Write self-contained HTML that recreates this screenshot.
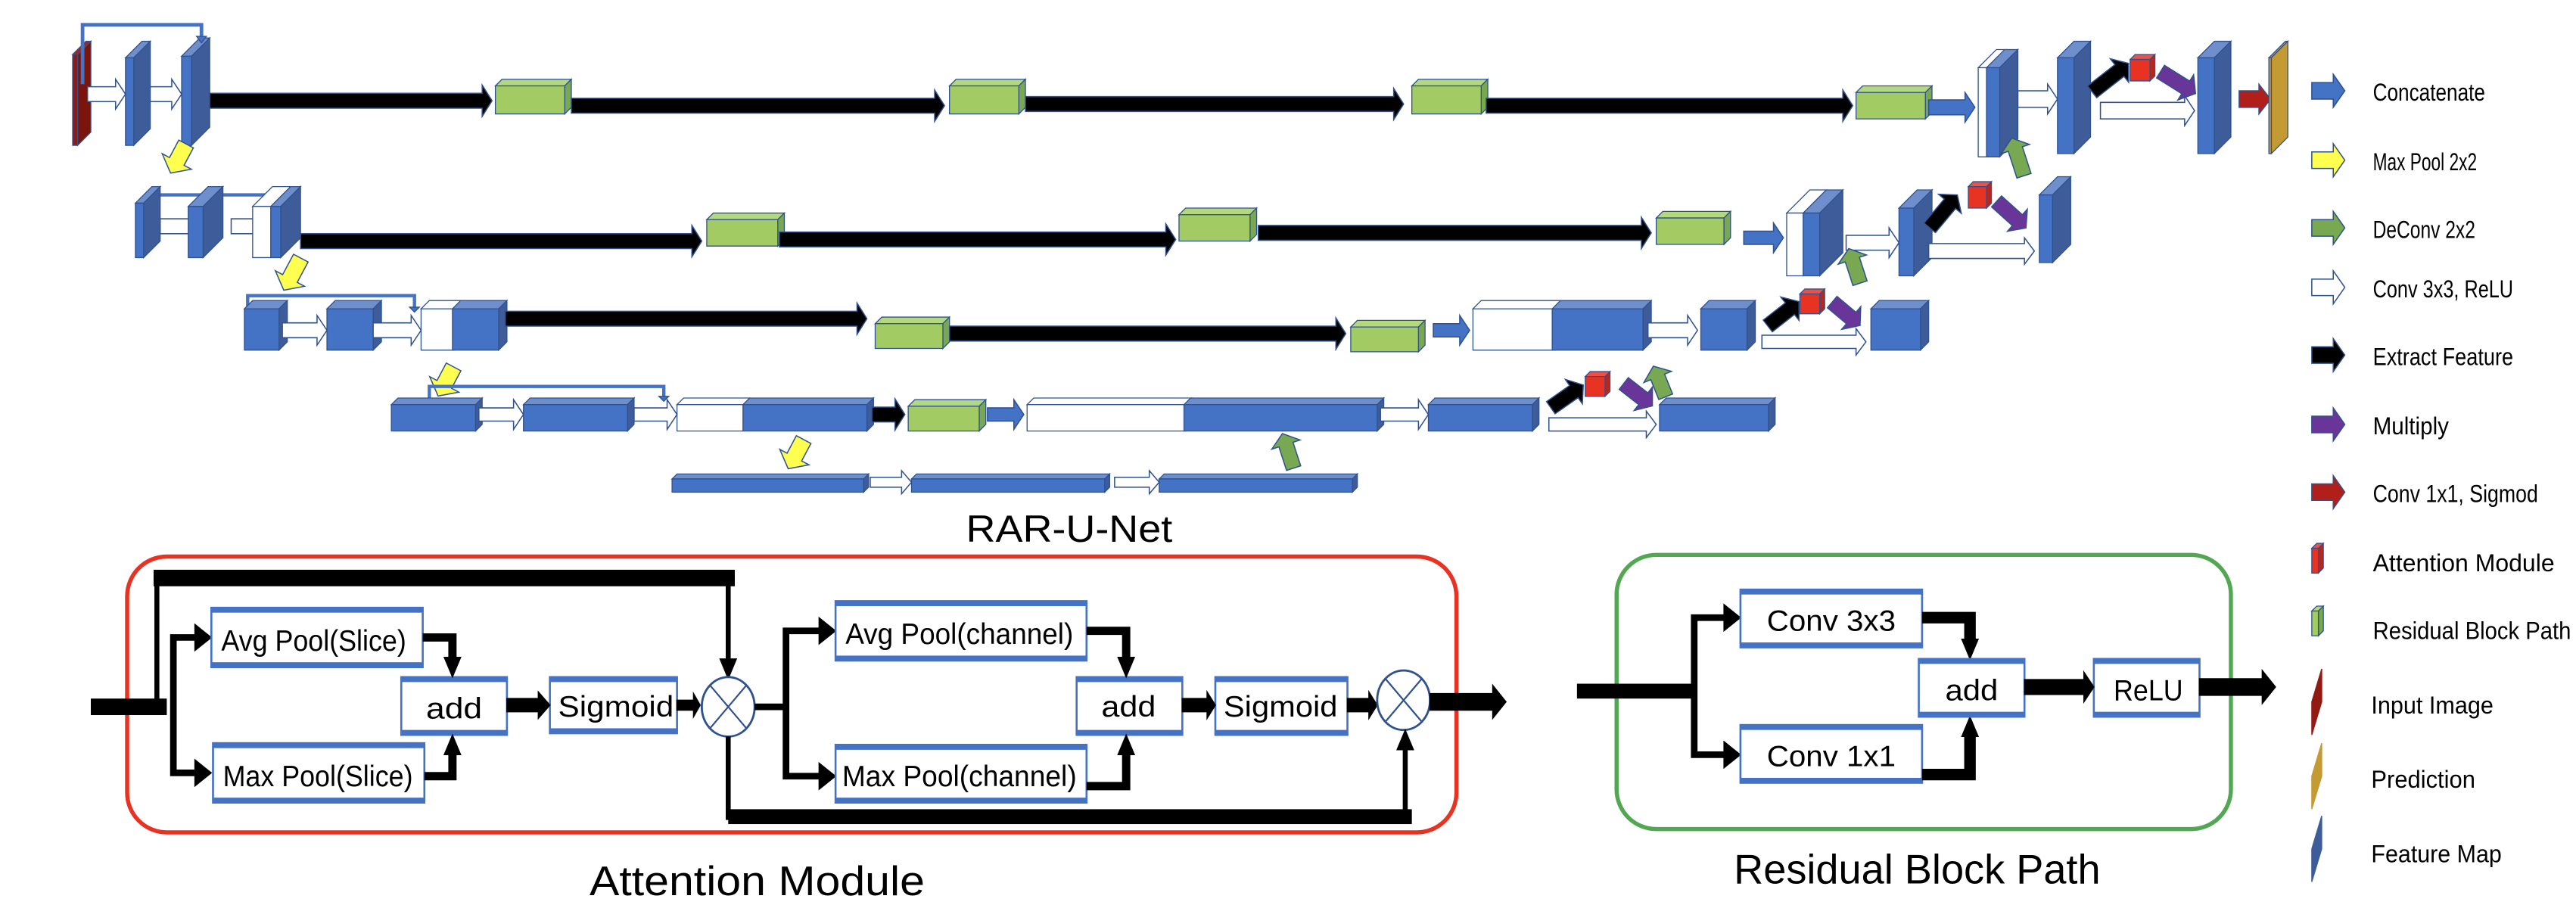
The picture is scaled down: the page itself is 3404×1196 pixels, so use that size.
<!DOCTYPE html>
<html><head><meta charset="utf-8">
<style>html,body{margin:0;padding:0;background:#fff;width:3404px;height:1196px;overflow:hidden}
svg{display:block}
svg text{font-family:"Liberation Sans",sans-serif}</style></head>
<body>
<svg id="s" width="3404" height="1196" viewBox="0 0 1560 548" preserveAspectRatio="none" xmlns="http://www.w3.org/2000/svg">
<g>
<text x="585" y="328" font-size="23" textLength="125" lengthAdjust="spacingAndGlyphs">RAR-U-Net</text>
<text x="357" y="542" font-size="25" textLength="203" lengthAdjust="spacingAndGlyphs">Attention Module</text>
<text x="1050" y="535" font-size="25" textLength="222" lengthAdjust="spacingAndGlyphs">Residual Block Path</text>
</g>
<g font-size="15">
<text x="1437" y="61" textLength="68" lengthAdjust="spacingAndGlyphs">Concatenate</text>
<text x="1437" y="103" textLength="63" lengthAdjust="spacingAndGlyphs">Max Pool 2x2</text>
<text x="1437" y="144" textLength="62" lengthAdjust="spacingAndGlyphs">DeConv 2x2</text>
<text x="1437" y="180" textLength="85" lengthAdjust="spacingAndGlyphs">Conv 3x3, ReLU</text>
<text x="1437" y="221" textLength="85" lengthAdjust="spacingAndGlyphs">Extract Feature</text>
<text x="1437" y="263" textLength="46" lengthAdjust="spacingAndGlyphs">Multiply</text>
<text x="1437" y="304" textLength="100" lengthAdjust="spacingAndGlyphs">Conv 1x1, Sigmod</text>
<text x="1437" y="346" textLength="110" lengthAdjust="spacingAndGlyphs">Attention Module</text>
<text x="1437" y="387" textLength="120" lengthAdjust="spacingAndGlyphs">Residual Block Path</text>
<text x="1436" y="432" textLength="74" lengthAdjust="spacingAndGlyphs">Input Image</text>
<text x="1436" y="477" textLength="63" lengthAdjust="spacingAndGlyphs">Prediction</text>
<text x="1436" y="522" textLength="79" lengthAdjust="spacingAndGlyphs">Feature Map</text>
</g>
<g font-size="18">
<text x="134" y="394" textLength="112" lengthAdjust="spacingAndGlyphs">Avg Pool(Slice)</text>
<text x="135" y="476" textLength="115" lengthAdjust="spacingAndGlyphs">Max Pool(Slice)</text>
<text x="258" y="435" textLength="34" lengthAdjust="spacingAndGlyphs">add</text>
<text x="338" y="434" textLength="70" lengthAdjust="spacingAndGlyphs">Sigmoid</text>
<text x="512" y="390" textLength="138" lengthAdjust="spacingAndGlyphs">Avg Pool(channel)</text>
<text x="510" y="476" textLength="142" lengthAdjust="spacingAndGlyphs">Max Pool(channel)</text>
<text x="667" y="434" textLength="33" lengthAdjust="spacingAndGlyphs">add</text>
<text x="741" y="434" textLength="69" lengthAdjust="spacingAndGlyphs">Sigmoid</text>
<text x="1070" y="382" textLength="78" lengthAdjust="spacingAndGlyphs">Conv 3x3</text>
<text x="1070" y="464" textLength="78" lengthAdjust="spacingAndGlyphs">Conv 1x1</text>
<text x="1178" y="424" textLength="32" lengthAdjust="spacingAndGlyphs">add</text>
<text x="1280" y="424" textLength="42" lengthAdjust="spacingAndGlyphs">ReLU</text>
</g>
</svg>
<script>
var s=document.getElementById('s'),h='';
var B='#4472c4',BT='#6f8fcc',BS='#3d5c99',E='#2f528f';
function P(pts,f,st,sw){return '<polygon points="'+pts.map(p=>p.join(',')).join(' ')+'" fill="'+f+'" stroke="'+(st||E)+'" stroke-width="'+(sw||0.6)+'"/>';}
function slab(x,y,w,hh,d,f,t,sd){f=f||B;t=t||BT;sd=sd||BS;
 return P([[x,y+d],[x+d,y],[x+d+w,y],[x+w,y+d]],t)+P([[x+w,y+d],[x+w+d,y],[x+w+d,y+hh-d],[x+w,y+hh]],sd)+P([[x,y+d],[x+w,y+d],[x+w,y+hh],[x,y+hh]],f);}
function white(x,y,w,hh,d){return P([[x,y+d],[x+d,y],[x+d+w,y],[x+w,y+d]],'#fff')+P([[x,y+d],[x+w,y+d],[x+w,y+hh],[x,y+hh]],'#fff');}
function green(x,y,w,hh,d){return slab(x,y,w,hh,d,'#a2cc63','#b3d881','#7aa84e');}
function red(x,y,w,hh,d){return slab(x,y,w,hh,d,'#e83323','#ee5046','#b8261c');}
function arr(x1,x2,yc,a,b,k,f,st){return P([[x1,yc-a],[x2-k,yc-a],[x2-k,yc-b],[x2,yc],[x2-k,yc+b],[x2-k,yc+a],[x1,yc+a]],f,st||E,0.7);}
function rarr(cx,cy,L,a,b,k,ang,f){return '<g transform="translate('+cx+','+cy+') rotate('+ang+')">'+arr(-L/2,L/2,0,a,b,k,f)+'</g>';}
function blk(x1,x2,y,a){return arr(x1,x2,y,a||4.5,a?a+5:10,6,'#000');}
function wa(x1,x2,y,a,b){return arr(x1,x2,y,a||4,b||8,6,'#fff');}
function dn(x,y){return P([[x-5,y-12],[x+5,y-12],[x,y]],'#000','#000');}
function up(x,y){return P([[x-5,y+12],[x+5,y+12],[x,y]],'#000','#000');}
function rt(x,y){return P([[x-10,y-8],[x,y],[x-10,y+8]],'#000','#000');}
// ---------- level 1
h+=slab(44,25,3,63,8,'#921a12','#a8231a','#7a150e');
h+=wa(53,76,57,4.5,9);h+=wa(88,110,57,4.5,9);
h+=slab(76,25,5,63,10);
h+=slab(110,23,6,65,11);
h+='<path d="M50,51 V15 H122 V22" fill="none" stroke="'+B+'" stroke-width="2.2"/>'+P([[119,22],[125,22],[122,26]],B);
h+=blk(127,298,61,4.5);h+=green(300,48,42,21,4);
h+=blk(346,572,64,4.5);h+=green(575,48,42,21,4);
h+=blk(621,850,63,4.5);h+=green(855,48,42,21,4);
h+=blk(900,1122,64,4.5);h+=green(1124,52,42,20,4);
h+=arr(1168,1196,65,4.5,9,6,B);
h+=white(1198,30,6,65,11);h+=slab(1203,30,8,65,11);
h+=wa(1222,1246,60,5,9);
h+=slab(1246,25,10,68,10);
h+=rarr(1278,47,28,4.5,9,7,-38,'#000');
h+=red(1290,33,12,16,3);
h+=rarr(1319,50,25,4.5,9,7,32,'#6a3598');
h+=wa(1272,1329,67,5,9);
h+=slab(1331,25,10,68,10);
h+=arr(1356,1375,60,5,9,7,'#b01f1a');
h+=slab(1374,25,1.5,68,10,'#c49a32','#c49a32','#c49a32');
// ---------- level 2
h+=rarr(108,96,20,5,10,8,118,'#ffff4f');
h+='<path d="M93,122 V118 H173 V124" fill="none" stroke="'+B+'" stroke-width="2"/>'+P([[170,124],[176,124],[173,127]],B);
h+=wa(97,123,137,4.5,9);h+=wa(140,165,137,4.5,9);
h+=slab(82,113,5,43,10);h+=slab(114,113,9,43,12);
h+=white(153,113,11,43,12);h+=slab(164,113,6,43,12);
h+=blk(182,425,146,4.5);h+=green(428,129,43,20,4);
h+=blk(472,712,145,4.5);h+=green(714,126,43,20,4);
h+=blk(762,1000,141,4.5);h+=green(1003,128,41,20,4);
h+=arr(1056,1080,144,4,9,6,B);
h+=white(1082,115,10,52,14);h+=slab(1092,115,10,52,14);
h+=wa(1118,1150,147,4.5,9);
h+=slab(1150,115,9,52,11);
h+=rarr(1177,128,26,4.5,9,7,-50,'#000');
h+=red(1192,110,11,16,3);
h+=rarr(1218,130,24,4.5,9,7,42,'#6a3598');
h+=wa(1168,1232,152,4.5,8);
h+=slab(1235,107,8,52,11);
h+=rarr(1222,95,24,4.5,9,7,-108,'#78a851');
// ---------- level 3
h+=rarr(177,166,22,5,10,8,118,'#ffff4f');
h+='<path d="M150,186 V179 H251 V186" fill="none" stroke="'+B+'" stroke-width="2"/>'+P([[248,186],[254,186],[251,189]],B);
h+=slab(148,182,21,30,5);h+=slab(198,182,28,30,5);
h+=white(255,182,20,30,5);h+=slab(274,182,28,30,5);
h+=wa(171,198,200,4.5,9);h+=wa(226,255,200,4.5,9);
h+=blk(306,525,193,4.5);h+=green(530,192,41,19,4);
h+=blk(575,815,202,4.5);h+=green(818,194,41,19,4);
h+=arr(868,890,200,4,9,6,B);
h+=white(892,182,50,30,5);h+=slab(940,182,55,30,5);
h+=wa(998,1028,200,4.5,9);
h+=slab(1030,182,28,30,5);
h+=rarr(1080,190,24,4.5,9,7,-38,'#000');
h+=red(1090,175,12,15,3);
h+=rarr(1118,190,22,4.5,9,7,40,'#6a3598');
h+=wa(1067,1130,207,4,8);
h+=slab(1133,182,30,30,5);
h+=rarr(1123,161,22,4.5,9,7,-108,'#78a851');
// ---------- level 4
h+=rarr(270,231,20,5,10,8,118,'#ffff4f');
h+='<path d="M260,241 V234 H402 V240" fill="none" stroke="'+B+'" stroke-width="2"/>'+P([[399,240],[405,240],[402,243]],B);
h+=slab(237,241,51,20,4);h+=slab(317,241,63,20,4);
h+=white(410,241,40,20,4);h+=slab(450,241,75,20,4);
h+=wa(290,317,251,4,9);h+=wa(384,410,251,4,9);
h+=blk(528,548,251,4.5);h+=green(550,242,43,19,4);
h+=arr(598,620,251,4,9,6,B);
h+=white(622,241,96,20,4);h+=slab(717,241,117,20,4);
h+=wa(836,865,251,4,9);
h+=slab(865,241,63,20,4);
h+=rarr(949,240,24,4.5,9,7,-35,'#000');
h+=red(960,225,12,15,3);
h+=rarr(992,239,22,4.5,9,7,38,'#6a3598');
h+=wa(938,1003,257,4,8);
h+=slab(1005,241,66,20,4);
h+=rarr(1005,231,20,4.5,9,7,-112,'#78a851');
// ---------- level 5
h+=rarr(482,275,20,5,10,8,118,'#ffff4f');
h+=slab(407,287,116,11,3);h+=slab(552,287,117,11,3);h+=slab(702,287,117,11,3);
h+=wa(527,552,292,3,7);h+=wa(675,702,292,3,7);
h+=rarr(780,273,22,4.5,9,7,-108,'#78a851');
// ---------- legend icons
var lg=[[55,B],[97,'#ffff4f'],[138,'#78a851'],[174,'#fff'],[215,'#000'],[257,'#6a3598'],[298,'#b01f1a']];
lg.forEach(function(v){h+=arr(1400,1420,v[0],5,10,7,v[1]);});
h+=slab(1400,329,4,18,3,'#e83323','#ee5046','#b8261c');
h+=slab(1400,367,4,18,3,'#a2cc63','#b3d881','#7aa84e');
h+=P([[1400,425],[1406,405],[1406,425],[1400,445]],'#921a12','#921a12');
h+=P([[1400,470],[1406,450],[1406,470],[1400,490]],'#c49a32','#c49a32');
h+=P([[1400,514],[1406,494],[1406,514],[1400,534]],'#3d5c99','#3d5c99');
// ---------- boxes
h+='<rect x="77" y="337" width="805" height="167" rx="24" fill="none" stroke="#e83323" stroke-width="2.5"/>';
h+='<rect x="979" y="336" width="372" height="166" rx="24" fill="none" stroke="#52a852" stroke-width="2.5"/>';
function box(x,y,w,hh){return '<rect x="'+x+'" y="'+y+'" width="'+w+'" height="'+hh+'" fill="#fff" stroke="'+B+'" stroke-width="1.2"/><rect x="'+x+'" y="'+y+'" width="'+w+'" height="3" fill="'+B+'"/><rect x="'+x+'" y="'+(y+hh-3)+'" width="'+w+'" height="3" fill="'+B+'"/>';}
var K='stroke="#000" fill="none" stroke-linejoin="miter"';
h+='<rect x="55" y="423" width="46" height="10" fill="#000"/>';
h+='<path d="M95,428 V350 H441 V400" '+K+' stroke-width="3"/>';
h+='<rect x="93" y="345" width="352" height="10" fill="#000"/>';
h+=dn(441,411);
h+='<path d="M105,428 V386 H118 M105,428 V468 H118" '+K+' stroke-width="4"/>';
h+=rt(128,386);h+=rt(128,468);
h+=box(128,368,128,36);h+=box(129,450,128,36);
h+=box(243,410,64,35);h+=box(333,410,77,34);
h+='<path d="M256,386 H274 V400 M257,470 H274 V456" '+K+' stroke-width="5"/>';
h+=dn(274,410);h+=up(274,445);
h+=arr(307,333,427,4,8,7,'#000','#000');
h+=arr(410,424,427,3,7,4,'#000','#000');
h+='<ellipse cx="441" cy="428" rx="16" ry="18" fill="#fff" stroke="'+E+'" stroke-width="1.3"/><path d="M430,415 L452,441 M452,415 L430,441" stroke="'+E+'" stroke-width="1"/>';
h+='<path d="M457,428 H476 M476,428 V382 H496 M476,428 V470 H496" '+K+' stroke-width="4"/>';
h+=rt(506,382);h+=rt(506,470);
h+=box(506,364,152,36);h+=box(506,451,152,35);
h+=box(652,410,64,35);h+=box(736,410,80,35);
h+='<path d="M658,382 H682 V400 M658,476 H682 V456" '+K+' stroke-width="5"/>';
h+=dn(682,410);h+=up(682,445);
h+=arr(716,736,427,4,8,5,'#000','#000');
h+=arr(816,834,427,4,8,5,'#000','#000');
h+='<ellipse cx="850" cy="424" rx="16" ry="18" fill="#fff" stroke="'+E+'" stroke-width="1.3"/><path d="M839,411 L861,437 M861,411 L839,437" stroke="'+E+'" stroke-width="1"/>';
h+='<path d="M441,446 V495 H851 V452" '+K+' stroke-width="3"/>';
h+='<rect x="441" y="490" width="414" height="9" fill="#000"/>';
h+=up(851,442);
h+=arr(866,912,425,5,10,8,'#000','#000');
h+='<rect x="955" y="414" width="72" height="9" fill="#000"/>';
h+='<path d="M1026,418 V374 H1044 M1026,418 V457 H1044" '+K+' stroke-width="4"/>';
h+=rt(1054,374);h+=rt(1054,457);
h+=box(1054,357,110,35);h+=box(1054,439,110,35);
h+='<path d="M1164,374 H1193 V388 M1164,469 H1193 V446" '+K+' stroke-width="7"/>';
h+=dn(1193,399);h+=up(1193,434);
h+=box(1162,399,64,35);h+=box(1268,399,64,35);
h+=arr(1226,1268,416,4.5,9,6,'#000','#000');
h+=arr(1332,1378,416,5,10,8,'#000','#000');
s.insertAdjacentHTML('afterbegin',h);
</script>
</body></html>
